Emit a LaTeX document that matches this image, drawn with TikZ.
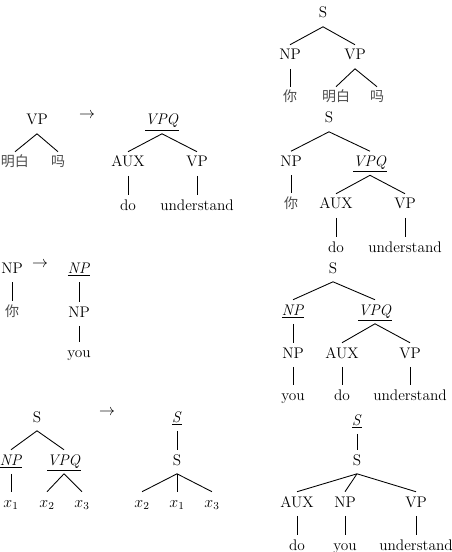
\documentclass[tikz,border=0pt]{standalone}
\usepackage{fontspec}
\newfontfamily\cjk{Noto Sans CJK SC}
\newcommand{\ul}[1]{\underline{\textit{#1}}}
\begin{document}
\begin{tikzpicture}[x=0.75pt,y=-0.75pt,
  lab/.style={anchor=base, inner xsep=1pt, inner ysep=0pt, text height=11.25pt, text depth=6.4pt, font=\fontsize{11.5}{13}\selectfont},
  zh/.style={lab, text=black!70, font=\fontsize{10.5}{13}\selectfont\cjk},
  arr/.style={anchor=center, inner sep=0pt, font=\fontsize{11.5}{13}\selectfont},
  br/.style={line width=0.65pt}]
\useasboundingbox (0,0) rectangle (452,552);

% ---------- right column, tree 1
\node[lab] (a1) at (323,18) {S};
\node[lab] (a2) at (290,60) {NP};
\node[lab] (a3) at (355,60) {VP};
\node[zh] (a4) at (290,102) {你};
\node[zh] (a5) at (336,102) {明白};
\node[zh] (a6) at (377,102) {吗};
\foreach \p/\c in {a1/a2,a1/a3,a2/a4,a3/a5,a3/a6} \draw[br] (\p.south) -- (\c.north);

% ---------- right column, tree 2
\node[lab] (b1) at (329,123) {S};
\node[lab] (b2) at (291,166.5) {NP};
\node[lab] (b3) at (370,166.5) {\ul{VPQ}};
\node[zh] (b4) at (291,208) {你};
\node[lab] (b5) at (336,209) {AUX};
\node[lab] (b6) at (405,209) {VP};
\node[lab] (b7) at (336,252) {do};
\node[lab] (b8) at (405,252) {understand};
\foreach \p/\c in {b1/b2,b1/b3,b2/b4,b3/b5,b3/b6,b5/b7,b6/b8} \draw[br] (\p.south) -- (\c.north);

% ---------- right column, tree 3
\node[lab] (c1) at (333,273) {S};
\node[lab] (c2) at (293,315) {\ul{NP}};
\node[lab] (c3) at (375,315) {\ul{VPQ}};
\node[lab] (c4) at (293,358) {NP};
\node[lab] (c5) at (342,358) {AUX};
\node[lab] (c6) at (410,358) {VP};
\node[lab] (c7) at (293,400) {you};
\node[lab] (c8) at (342,400) {do};
\node[lab] (c9) at (410,400) {understand};
\foreach \p/\c in {c1/c2,c1/c3,c2/c4,c3/c5,c3/c6,c4/c7,c5/c8,c6/c9} \draw[br] (\p.south) -- (\c.north);

% ---------- right column, tree 4
\node[lab] (d1) at (357,425) {\ul{S}};
\node[lab] (d2) at (357,465) {S};
\node[lab] (d3) at (297,507) {AUX};
\node[lab] (d4) at (345,507) {NP};
\node[lab] (d5) at (416,507) {VP};
\node[lab] (d6) at (297,550) {do};
\node[lab] (d7) at (345,550) {you};
\node[lab] (d8) at (416,550) {understand};
\foreach \p/\c in {d1/d2,d2/d3,d2/d4,d2/d5,d3/d6,d4/d7,d5/d8} \draw[br] (\p.south) -- (\c.north);

% ---------- left, rule 1
\node[lab] (e1) at (37,125) {VP};
\node[zh] (e2) at (15,167) {明白};
\node[zh] (e3) at (58,167) {吗};
\node[arr] (ea) at (87,116) {$\rightarrow$};
\node[lab] (e4) at (162,125) {\ul{VPQ}};
\node[lab] (e5) at (128,167) {AUX};
\node[lab] (e6) at (197,167) {VP};
\node[lab] (e7) at (128,210) {do};
\node[lab] (e8) at (197,210) {understand};
\foreach \p/\c in {e1/e2,e1/e3,e4/e5,e4/e6,e5/e7,e6/e8} \draw[br] (\p.south) -- (\c.north);

% ---------- left, rule 2
\node[lab] (f1) at (12,273.5) {NP};
\node[arr] (fa) at (40,265) {$\rightarrow$};
\node[lab] (f2) at (79,273.5) {\ul{NP}};
\node[zh] (f3) at (12,316) {你};
\node[lab] (f4) at (79,317) {NP};
\node[lab] (f5) at (79,357) {you};
\foreach \p/\c in {f1/f3,f2/f4,f4/f5} \draw[br] (\p.south) -- (\c.north);

% ---------- left, rule 3
\node[lab] (g1) at (37,422) {S};
\node[lab] (g2) at (11,465) {\ul{NP}};
\node[lab] (g3) at (64,465) {\ul{VPQ}};
\node[lab] (g4) at (11,507) {$x_1$};
\node[lab] (g5) at (47,507) {$x_2$};
\node[lab] (g6) at (82,507) {$x_3$};
\node[arr] (ga) at (107,413) {$\rightarrow$};
\node[lab] (g7) at (177,422) {\ul{S}};
\node[lab] (g8) at (177,465) {S};
\node[lab] (g9) at (142,507) {$x_2$};
\node[lab] (g10) at (177,507) {$x_1$};
\node[lab] (g11) at (212,507) {$x_3$};
\foreach \p/\c in {g1/g2,g1/g3,g2/g4,g3/g5,g3/g6,g7/g8,g8/g9,g8/g10,g8/g11} \draw[br] (\p.south) -- (\c.north);
\end{tikzpicture}
\end{document}
